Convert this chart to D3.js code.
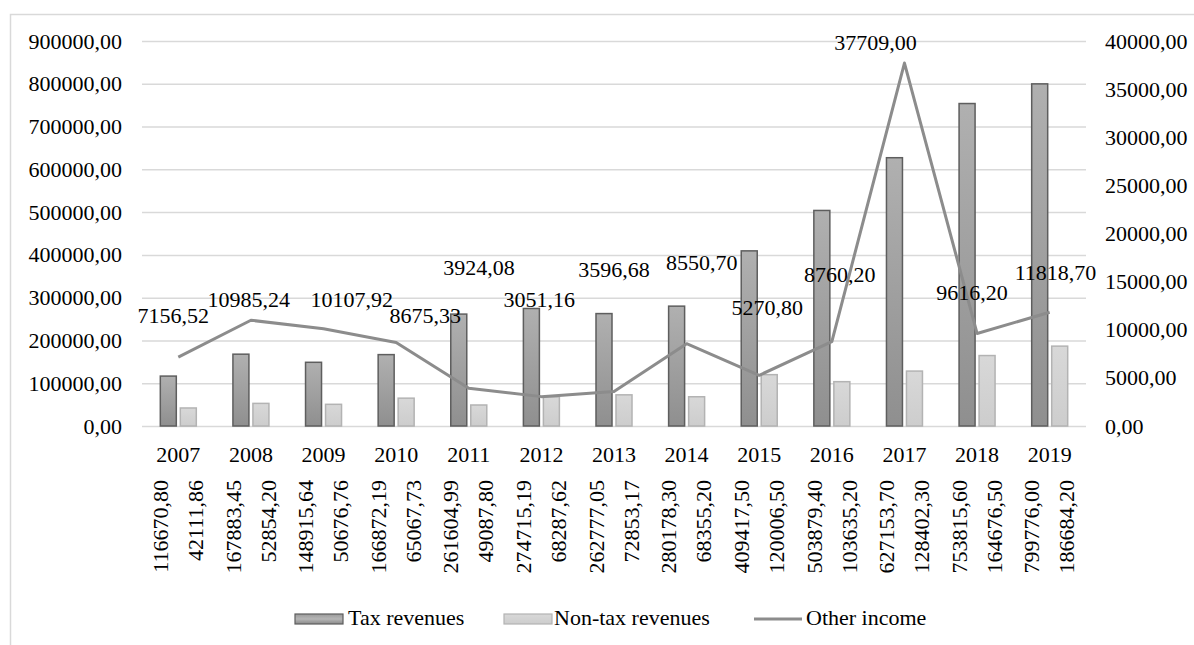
<!DOCTYPE html>
<html>
<head>
<meta charset="utf-8">
<script src="https://cdn.jsdelivr.net/npm/d3@7"></script>
<style>
  html, body { margin: 0; padding: 0; background: #fff; }
</style>
</head>
<body>
<svg id="chart" width="1194" height="645"></svg>
<script>
// ---- data ----
const years = ["2007","2008","2009","2010","2011","2012","2013","2014","2015","2016","2017","2018","2019"];
const taxRevenues = [116670.80,167883.45,148915.64,166872.19,261604.99,274715.19,262777.05,280178.30,409417.50,503879.40,627153.70,753815.60,799776.00];
const nonTaxRevenues = [42111.86,52854.20,50676.76,65067.73,49087.80,68287.62,72853.17,68355.20,120006.50,103635.20,128402.30,164676.50,186684.20];
const taxLabels = ["116670,80","167883,45","148915,64","166872,19","261604,99","274715,19","262777,05","280178,30","409417,50","503879,40","627153,70","753815,60","799776,00"];
const nonTaxLabels = ["42111,86","52854,20","50676,76","65067,73","49087,80","68287,62","72853,17","68355,20","120006,50","103635,20","128402,30","164676,50","186684,20"];
const otherIncome = [7156.52,10985.24,10107.92,8675.33,3924.08,3051.16,3596.68,8550.70,5270.80,8760.20,37709.00,9616.20,11818.70];
const otherLabels = ["7156,52","10985,24","10107,92","8675,33","3924,08","3051,16","3596,68","8550,70","5270,80","8760,20","37709,00","9616,20","11818,70"];
const leftTicks = [0,100000,200000,300000,400000,500000,600000,700000,800000,900000];
const leftTickLabels = ["0,00","100000,00","200000,00","300000,00","400000,00","500000,00","600000,00","700000,00","800000,00","900000,00"];
const rightTicks = [0,5000,10000,15000,20000,25000,30000,35000,40000];
const rightTickLabels = ["0,00","5000,00","10000,00","15000,00","20000,00","25000,00","30000,00","35000,00","40000,00"];
const seriesNames = ["Tax revenues","Non-tax revenues","Other income"];
// data-label placement (as in the source): horizontal shift in category steps, baseline in right-axis units
const otherLabelShift = [-0.07,-0.03,0.39,0.40,0.14,-0.03,0,0.21,0.11,0.11,-0.40,-0.07,0.08];
const otherLabelLevel = [10700,12360,12360,10700,15690,12360,15480,16210,11530,14960,39070,13090,15170];

// ---- layout ----
const FONT = "'Times New Roman', Times, Tinos, 'Liberation Serif', 'Noto Serif', 'DejaVu Serif', FreeSerif, serif";
const svg = d3.select("#chart");
const plotL = 142, plotR = 1086, plotT = 41, plotB = 426;
const fs = 22;

// frame
svg.append("rect").attr("x",10.5).attr("y",14.5).attr("width",1200).attr("height",700)
  .attr("fill","none").attr("stroke","#d9d9d9").attr("stroke-width",1.5);

const x = d3.scaleBand().domain(years).range([plotL, plotR]).padding(0);
const inner = d3.scaleBand().domain(["tax","non"]).range([-18,18]).paddingInner(0.2);
const yL = d3.scaleLinear().domain([0,900000]).range([plotB, plotT]);
const yR = d3.scaleLinear().domain([0,40000]).range([plotB, plotT]);

// gradients
const defs = svg.append("defs");
const g1 = defs.append("linearGradient").attr("id","gTax").attr("x1",0).attr("y1",0).attr("x2",0).attr("y2",1);
g1.append("stop").attr("offset","0%").attr("stop-color","#b0b0b0");
g1.append("stop").attr("offset","100%").attr("stop-color","#8f8f8f");
const g2 = defs.append("linearGradient").attr("id","gNon").attr("x1",0).attr("y1",0).attr("x2",0).attr("y2",1);
g2.append("stop").attr("offset","0%").attr("stop-color","#d8d8d8");
g2.append("stop").attr("offset","100%").attr("stop-color","#cdcdcd");
const g3 = defs.append("linearGradient").attr("id","gTaxL").attr("x1",0).attr("y1",0).attr("x2",0).attr("y2",1);
g3.append("stop").attr("offset","0%").attr("stop-color","#9a9a9a");
g3.append("stop").attr("offset","50%").attr("stop-color","#b5b5b5");
g3.append("stop").attr("offset","100%").attr("stop-color","#8a8a8a");

// gridlines
const gridAxis = d3.axisLeft(yL).tickValues(leftTicks).tickSize(-(plotR-plotL)).tickFormat("");
const grid = svg.append("g").attr("transform",`translate(${plotL},0)`).call(gridAxis);
grid.select(".domain").remove();
grid.selectAll("line").attr("stroke","#d9d9d9").attr("stroke-width",1.5);

// left axis labels
const la = svg.append("g").attr("transform",`translate(${plotL},0)`)
  .call(d3.axisLeft(yL).tickValues(leftTicks).tickSize(0).tickPadding(20).tickFormat((d,i)=>leftTickLabels[i]));
la.select(".domain").remove();

// right axis labels
const ra = svg.append("g").attr("transform",`translate(${plotR},0)`)
  .call(d3.axisRight(yR).tickValues(rightTicks).tickSize(0).tickPadding(19).tickFormat((d,i)=>rightTickLabels[i]));
ra.select(".domain").remove();

// bars
const bars = svg.append("g");
bars.selectAll("rect.tax").data(taxRevenues).join("rect").attr("class","tax")
  .attr("x",(d,i)=>x(years[i])+x.bandwidth()/2+inner("tax"))
  .attr("y",d=>yL(d)).attr("width",inner.bandwidth()).attr("height",d=>plotB-yL(d))
  .attr("fill","url(#gTax)").attr("stroke","#5e5e5e").attr("stroke-width",1.5);
bars.selectAll("rect.non").data(nonTaxRevenues).join("rect").attr("class","non")
  .attr("x",(d,i)=>x(years[i])+x.bandwidth()/2+inner("non"))
  .attr("y",d=>yL(d)).attr("width",inner.bandwidth()).attr("height",d=>plotB-yL(d))
  .attr("fill","url(#gNon)").attr("stroke","#b3b3b3").attr("stroke-width",1.5);

// line
const line = d3.line().x((d,i)=>x(years[i])+x.bandwidth()/2).y(d=>yR(d));
svg.append("path").datum(otherIncome).attr("d",line).attr("fill","none")
  .attr("stroke","#8c8c8c").attr("stroke-width",3).attr("stroke-linejoin","round");

// line data labels
svg.append("g").selectAll("text").data(otherIncome).join("text")
  .attr("x",(d,i)=>x(years[i])+x.bandwidth()/2+otherLabelShift[i]*x.step())
  .attr("y",(d,i)=>yR(otherLabelLevel[i]))
  .attr("text-anchor","middle")
  .text((d,i)=>otherLabels[i]);

// category labels
svg.append("g").selectAll("text").data(years).join("text")
  .attr("x",d=>x(d)+x.bandwidth()/2).attr("y",462)
  .attr("text-anchor","middle").text(d=>d);

// rotated value labels (table-like axis)
const vg = svg.append("g");
vg.selectAll("text.t").data(taxLabels).join("text").attr("class","t")
  .attr("transform",(d,i)=>`translate(${x(years[i])+x.bandwidth()/2-18},480) rotate(-90)`)
  .attr("text-anchor","end").attr("dy","0.35em").text(d=>d);
vg.selectAll("text.n").data(nonTaxLabels).join("text").attr("class","n")
  .attr("transform",(d,i)=>`translate(${x(years[i])+x.bandwidth()/2+17},480) rotate(-90)`)
  .attr("text-anchor","end").attr("dy","0.35em").text(d=>d);

// legend
const lg = svg.append("g");
lg.append("rect").attr("x",295).attr("y",614).attr("width",48).attr("height",10)
  .attr("fill","url(#gTaxL)").attr("stroke","#5e5e5e").attr("stroke-width",1.2);
lg.append("text").attr("x",348).attr("y",625).text(seriesNames[0]);
lg.append("rect").attr("x",504).attr("y",614).attr("width",48).attr("height",10)
  .attr("fill","url(#gNon)").attr("stroke","#b3b3b3").attr("stroke-width",1.2);
lg.append("text").attr("x",554).attr("y",625).text(seriesNames[1]);
lg.append("line").attr("x1",754).attr("x2",802).attr("y1",619).attr("y2",619)
  .attr("stroke","#8c8c8c").attr("stroke-width",3);
lg.append("text").attr("x",806).attr("y",625).text(seriesNames[2]);

// apply typography to every text
svg.selectAll("text")
  .attr("font-family", FONT)
  .style("font-family", FONT)
  .style("font-size", fs + "px")
  .style("fill", "#000");
</script>
</body>
</html>
